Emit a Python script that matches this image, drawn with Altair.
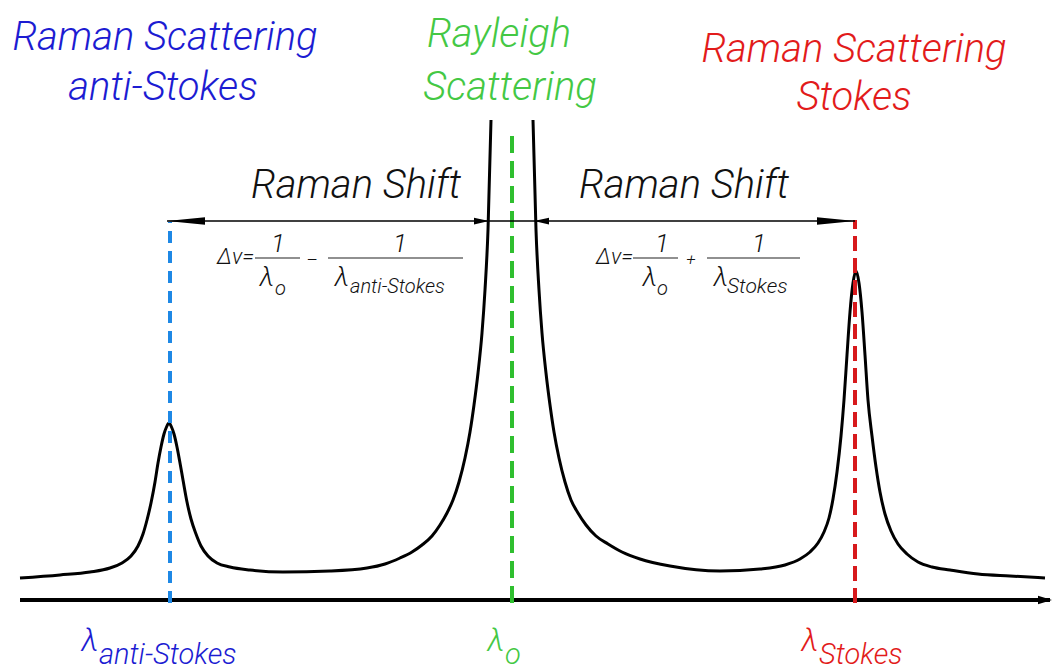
import altair as alt
import pandas as pd

# ---- spectrum trace (position along the shift axis, intensity above the axis line)
anti_stokes_side_pos = [20, 60, 90, 110, 122, 131, 138, 143, 147, 151, 155, 158, 161, 164,
                        166.5, 169, 171.5, 174, 177, 180, 183, 187, 191, 196, 201, 208, 217,
                        230, 250, 283, 330, 367, 385, 400, 412, 422, 432, 440, 447, 453, 459,
                        465, 470, 474, 478, 482, 485, 488, 491]
anti_stokes_side_int = [22, 25, 28, 32, 37, 44, 54, 66, 80, 97, 118, 137, 153, 166,
                        173, 177, 173, 166, 153, 137, 120, 98, 81, 66, 54, 44, 37,
                        33, 30, 28, 29, 32, 36, 42, 48, 55, 64, 75, 87, 100, 118,
                        142, 168, 195, 227, 267, 310, 370, 480]

stokes_side_pos = [533, 536, 539, 542, 546, 550, 554, 559, 565, 571, 578, 586, 596, 608, 622,
                   640, 670, 720, 760, 785, 800, 810, 818, 824, 829, 833, 837, 841, 844, 847,
                   850, 853, 856, 859, 862, 865, 868, 872, 876, 880, 885, 891, 898, 907, 918,
                   932, 950, 978, 1010, 1045]
stokes_side_int = [480, 370, 310, 267, 227, 195, 168, 142, 118, 100, 87, 75, 64, 56, 48,
                   41, 34, 29, 31, 35, 41, 48, 57, 68, 82, 101, 128, 164, 200, 245,
                   288, 317, 329, 317, 288, 245, 200, 164, 133, 108, 86, 69, 56, 46, 38,
                   33, 30, 26, 24, 22]

# ---- line positions
lambda_anti_stokes = 170
lambda_0 = 512
lambda_stokes = 855
marker_names = ["anti-Stokes", "Rayleigh", "Stokes"]
marker_pos = [lambda_anti_stokes, lambda_0, lambda_stokes]
marker_top = [378, 470, 380]
marker_colors = ["#1e88e5", "#2fbf2f", "#d7191c"]

axis_start, axis_end = 20, 1050
shift_level = 379          # height of the Raman-shift arrows
shift_left_end = 167
rayleigh_left_edge = 489
rayleigh_right_edge = 534
fraction_level = 342
fraction_bars = [(255, 300), (328, 463), (633, 678), (707, 800)]

BLUE, GREEN, RED, INK = "#1c1cd2", "#44c844", "#e21b1b", "#111111"
FONT = "Roboto"

X = alt.Scale(domain=[0, 1052], nice=False, zero=False)
Y = alt.Scale(domain=[-72, 600], nice=False, zero=False)


def xq(field):
    return alt.X(f"{field}:Q", scale=X, axis=None)


def yq(field):
    return alt.Y(f"{field}:Q", scale=Y, axis=None)


# ---- spectrum
trace = pd.DataFrame({
    "x": anti_stokes_side_pos + stokes_side_pos,
    "y": anti_stokes_side_int + stokes_side_int,
    "branch": ["a"] * len(anti_stokes_side_pos) + ["s"] * len(stokes_side_pos),
    "order": list(range(len(anti_stokes_side_pos))) + list(range(len(stokes_side_pos))),
})
spectrum = alt.Chart(trace).mark_line(
    color="#000000", strokeWidth=3, interpolate="monotone"
).encode(x=xq("x"), y=yq("y"), detail="branch:N", order="order:Q")

# ---- horizontal axis with arrow
axis_df = pd.DataFrame({"x": [axis_start], "x2": [axis_end], "y": [0]})
axis_line = alt.Chart(axis_df).mark_rule(color="#000000", strokeWidth=4).encode(
    x=xq("x"), x2="x2:Q", y=yq("y"))
axis_tip = alt.Chart(pd.DataFrame({"x": [axis_end + 2], "y": [0]})).mark_point(
    filled=True, color="#000000", opacity=1, size=196,
    shape="M0,0 L-2,-0.6 L-2,0.6 Z").encode(x=xq("x"), y=yq("y"))

# ---- dashed wavelength markers
dashed = []
for name, pos, top, col, dash in zip(marker_names, marker_pos, marker_top, marker_colors,
                                     [[12, 8], [17, 8], [15, 7]]):
    d = pd.DataFrame({"x": [pos], "y": [-3], "y2": [top]})
    dashed.append(alt.Chart(d).mark_rule(color=col, strokeWidth=4, strokeDash=dash).encode(
        x=xq("x"), y=yq("y"), y2="y2:Q"))

# ---- Raman shift arrows
shift_df = pd.DataFrame({"x": [shift_left_end], "x2": [lambda_stokes], "y": [shift_level]})
shift_line = alt.Chart(shift_df).mark_rule(color="#000000", strokeWidth=1.5).encode(
    x=xq("x"), x2="x2:Q", y=yq("y"))


def head(x, shape, size):
    return alt.Chart(pd.DataFrame({"x": [x], "y": [shift_level]})).mark_point(
        filled=True, color="#000000", opacity=1, size=size, shape=shape, strokeWidth=0
    ).encode(x=xq("x"), y=yq("y"))


LONG_LEFT = "M0,0 L2,-0.2 L2,0.2 Z"
LONG_RIGHT = "M0,0 L-2,-0.2 L-2,0.2 Z"
SHORT_LEFT = "M0,0 L2,-0.45 L2,0.45 Z"
SHORT_RIGHT = "M0,0 L-2,-0.45 L-2,0.45 Z"
heads = [
    head(shift_left_end, LONG_LEFT, 1444),
    head(lambda_stokes, LONG_RIGHT, 1444),
    head(rayleigh_left_edge, SHORT_RIGHT, 225),
    head(rayleigh_right_edge, SHORT_LEFT, 225),
]

# ---- fraction bars of the two formulas
bars_df = pd.DataFrame({"x": [b[0] for b in fraction_bars], "x2": [b[1] for b in fraction_bars],
                        "y": [fraction_level] * len(fraction_bars)})
bars = alt.Chart(bars_df).mark_rule(color="#222222", strokeWidth=1.2).encode(
    x=xq("x"), x2="x2:Q", y=yq("y"))

# ---- text
# (text, x, y, size, color, align)
labels = [
    ("Raman Scattering", 165, 550, 40, BLUE, "center"),
    ("anti-Stokes", 163, 500, 40, BLUE, "center"),
    ("Rayleigh", 499, 553, 40, GREEN, "center"),
    ("Scattering", 510, 500, 40, GREEN, "center"),
    ("Raman Scattering", 854, 538, 40, RED, "center"),
    ("Stokes", 854, 490, 40, RED, "center"),
    ("Raman Shift", 356, 402, 40, INK, "center"),
    ("Raman Shift", 684, 402, 40, INK, "center"),
    # anti-Stokes shift formula
    ("Δv=", 254, 336, 22, INK, "right"),
    ("1", 278, 348, 26, INK, "center"),
    ("λ", 267, 314, 27, INK, "center"),
    ("o", 275, 305, 20, INK, "left"),
    ("–", 312, 334, 18, INK, "center"),
    ("1", 400, 348, 26, INK, "center"),
    ("λ", 342, 314, 27, INK, "center"),
    ("anti-Stokes", 350, 307, 20, INK, "left"),
    # Stokes shift formula
    ("Δv=", 633, 336, 22, INK, "right"),
    ("1", 662, 348, 26, INK, "center"),
    ("λ", 650, 314, 27, INK, "center"),
    ("o", 657, 305, 20, INK, "left"),
    ("+", 691, 335, 17, INK, "center"),
    ("1", 759, 348, 26, INK, "center"),
    ("λ", 721, 314, 27, INK, "center"),
    ("Stokes", 727, 307, 21, INK, "left"),
    # wavelength labels under the axis
    ("λ", 90, -51, 32, BLUE, "center"),
    ("anti-Stokes", 99, -64, 29, BLUE, "left"),
    ("λ", 496, -51, 32, GREEN, "center"),
    ("o", 505, -64, 29, GREEN, "left"),
    ("λ", 810, -51, 32, RED, "center"),
    ("Stokes", 819, -64, 29, RED, "left"),
]
text_df = pd.DataFrame(labels, columns=["text", "x", "y", "size", "color", "align"])

text_layers = []
for al in ["center", "left", "right"]:
    sub = text_df[text_df["align"] == al]
    text_layers.append(
        alt.Chart(sub).mark_text(
            align=al, baseline="alphabetic", font=FONT, fontStyle="italic", fontWeight=300
        ).encode(
            x=xq("x"), y=yq("y"), text="text:N",
            size=alt.Size("size:Q", scale=None, legend=None),
            color=alt.Color("color:N", scale=None, legend=None),
        )
    )

chart = alt.layer(
    axis_line, axis_tip, spectrum, *dashed, shift_line, *heads, bars, *text_layers
).properties(
    width=1052, height=672, padding=0, autosize=alt.AutoSizeParams(type="none"),
    background="#ffffff"
).configure_view(stroke=None)

chart.save("out.html", embed_options={"renderer": "svg", "actions": False})
